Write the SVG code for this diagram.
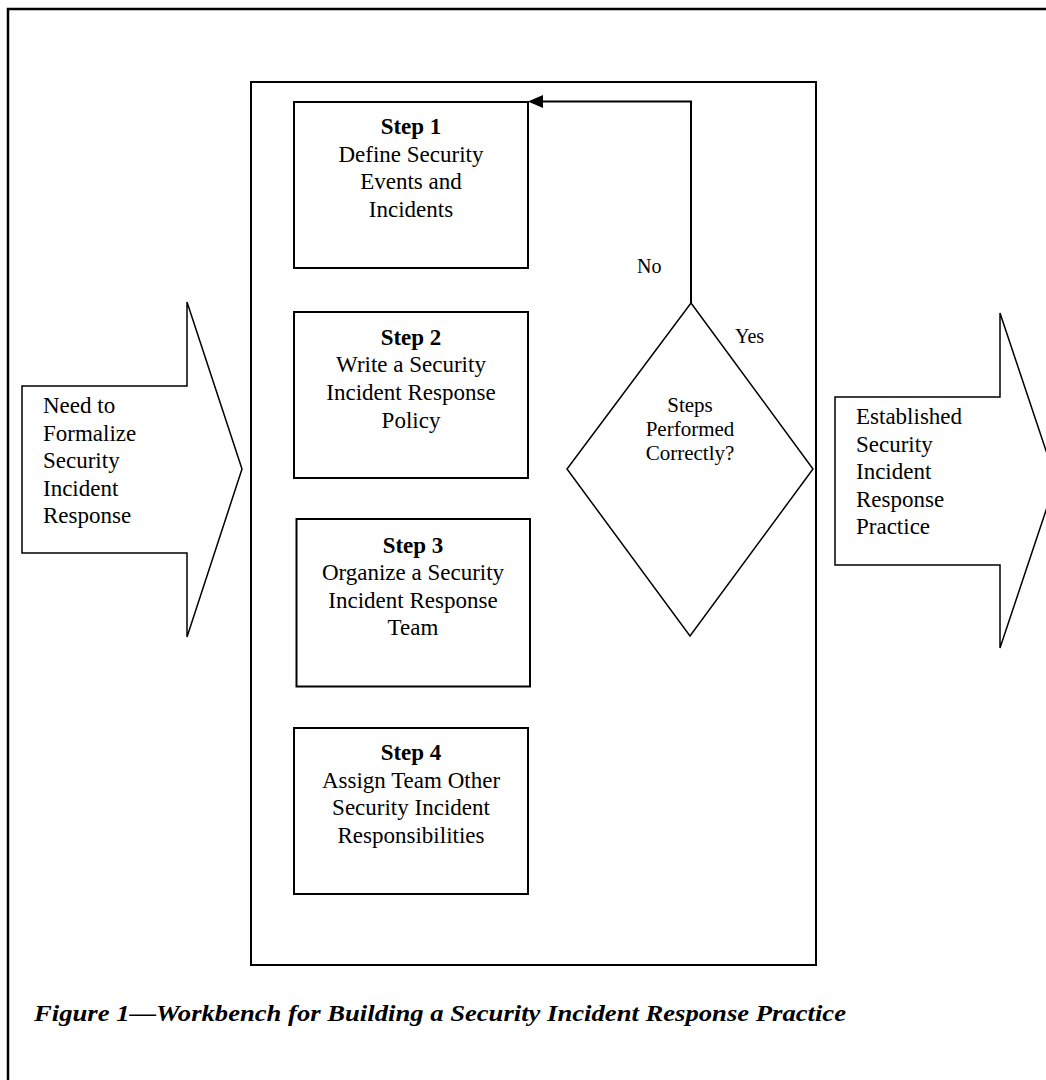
<svg xmlns="http://www.w3.org/2000/svg" width="1046" height="1080" viewBox="0 0 1046 1080">
<style>
.box{fill:#fff;stroke:#000;stroke-width:2}
.shape{fill:#fff;stroke:#000;stroke-width:1.5}
.t{font-family:"Liberation Serif","Times New Roman",serif;font-size:23px;fill:#000}
.c{text-anchor:middle}
.b{font-weight:bold}
.d{font-family:"Liberation Serif","Times New Roman",serif;font-size:21px;fill:#000;text-anchor:middle}
.lbl{font-family:"Liberation Serif","Times New Roman",serif;font-size:20px;fill:#000}
.cap{font-family:"Liberation Serif","Times New Roman",serif;font-size:24px;font-weight:bold;font-style:italic;fill:#000}
</style>
<rect width="1046" height="1080" fill="#fff"/>
<rect x="8" y="9" width="1100" height="1100" fill="none" stroke="#000" stroke-width="2.5"/>
<g id="workbench"><rect x="251" y="82" width="565" height="883" class="box"/></g>
<g id="input">
<polygon class="shape" points="22,386 187,386 187,302 242,469 187,637 187,553 22,553"/>
<text class="t" x="43" y="413">Need to</text>
<text class="t" x="43" y="440.5">Formalize</text>
<text class="t" x="43" y="468">Security</text>
<text class="t" x="43" y="495.5">Incident</text>
<text class="t" x="43" y="523">Response</text>
</g>
<g id="output">
<polygon class="shape" points="835,397 1000,397 1000,313 1056,480.5 1000,648 1000,565 835,565"/>
<text class="t" x="856" y="424">Established</text>
<text class="t" x="856" y="451.5">Security</text>
<text class="t" x="856" y="479">Incident</text>
<text class="t" x="856" y="506.5">Response</text>
<text class="t" x="856" y="534">Practice</text>
</g>
<g id="step1">
<rect x="294" y="102" width="234" height="166" class="box"/>
<text class="t c b" x="411" y="134">Step 1</text>
<text class="t c" x="411" y="161.5">Define Security</text>
<text class="t c" x="411" y="189">Events and</text>
<text class="t c" x="411" y="216.5">Incidents</text>
</g>
<g id="step2">
<rect x="294" y="312" width="234" height="166" class="box"/>
<text class="t c b" x="411" y="345">Step 2</text>
<text class="t c" x="411" y="372">Write a Security</text>
<text class="t c" x="411" y="400">Incident Response</text>
<text class="t c" x="411" y="427.5">Policy</text>
</g>
<g id="step3">
<rect x="296.5" y="519" width="233.5" height="167.5" class="box"/>
<text class="t c b" x="413" y="553">Step 3</text>
<text class="t c" x="413" y="580">Organize a Security</text>
<text class="t c" x="413" y="607.5">Incident Response</text>
<text class="t c" x="413" y="635">Team</text>
</g>
<g id="step4">
<rect x="294" y="728" width="234" height="166" class="box"/>
<text class="t c b" x="411" y="760">Step 4</text>
<text class="t c" x="411" y="787.5">Assign Team Other</text>
<text class="t c" x="411" y="815">Security Incident</text>
<text class="t c" x="411" y="842.5">Responsibilities</text>
</g>
<g id="decision">
<polygon class="shape" points="691,303 813,469 690,636 567,469"/>
<text class="d" x="690" y="412">Steps</text>
<text class="d" x="690" y="436">Performed</text>
<text class="d" x="690" y="460">Correctly?</text>
</g>
<g id="connectors">
<path d="M691,303 V101.5 H540" fill="none" stroke="#000" stroke-width="2"/>
<polygon points="528,101.5 543,95 543,108" fill="#000"/>
<text class="lbl" x="637" y="273">No</text>
<text class="lbl" x="735" y="343">Yes</text>
</g>
<text class="cap" x="34" y="1021" textLength="812" lengthAdjust="spacingAndGlyphs">Figure 1—Workbench for Building a Security Incident Response Practice</text>
</svg>
